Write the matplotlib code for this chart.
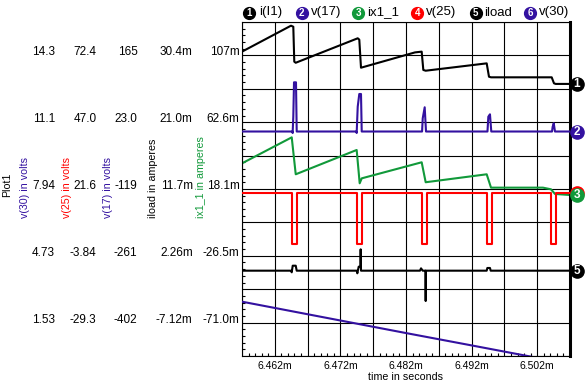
import numpy as np
import matplotlib.pyplot as plt
from matplotlib.lines import Line2D
from matplotlib.ticker import FixedLocator
from matplotlib.transforms import offset_copy

plt.rcParams['font.family'] = ['Liberation Sans', 'DejaVu Sans']

BLUE = '#3311a0'
GREEN = '#11993a'
RED = '#ff0000'

# time axis (ms)
t_min, t_max = 6.457, 6.507
x_ticklabels = ['6.462m', '6.472m', '6.482m', '6.492m', '6.502m']

# axis tick values / labels, top to bottom
ix1_ticks = [107, 62.6, 18.1, -26.5, -71.0]
ix1_ticklabels = ['107m', '62.6m', '18.1m', '-26.5m', '-71.0m']
iload_ticks = [30.4, 21.0, 11.7, 2.26, -7.12]
iload_ticklabels = ['30.4m', '21.0m', '11.7m', '2.26m', '-7.12m']
v17_ticks = [165, 23.0, -119, -261, -402]
v17_ticklabels = ['165', '23.0', '-119', '-261', '-402']
v25_ticks = [72.4, 47.0, 21.6, -3.84, -29.3]
v25_ticklabels = ['72.4', '47.0', '21.6', '-3.84', '-29.3']
v30_ticks = [14.3, 11.1, 7.94, 4.73, 1.53]
v30_ticklabels = ['14.3', '11.1', '7.94', '4.73', '1.53']

# i(I1) in mA, on the ix1_1 axis
iI1_t = [6.4570, 6.46447, 6.46482, 6.46497, 6.46519, 6.47464, 6.47488, 6.47514,
         6.48337, 6.48439, 6.48464, 6.48500, 6.49430, 6.49465, 6.49496,
         6.50421, 6.50456, 6.50482, 6.5070]
iI1_v = [109.5, 126.8, 126.1, 102.8, 102.1, 118.4, 117.5, 98.8,
         109.0, 109.5, 97.3, 96.8, 101.7, 92.8, 92.4,
         92.4, 88.4, 88.0, 88.0]

# ix1_1 in mA
ix1_t = [6.4570, 6.46458, 6.46519, 6.47448, 6.47494, 6.47525, 6.48439, 6.48500,
         6.49430, 6.49496, 6.50288, 6.50410, 6.50471, 6.5070]
ix1_v = [35.1, 52.4, 27.8, 44.0, 21.8, 25.1, 35.8, 22.5,
         27.8, 18.9, 18.9, 17.8, 14.7, 14.0]

# v(17) in volts
v17_t = [6.4570, 6.46467, 6.46472, 6.46482, 6.46493, 6.46523, 6.46534,
         6.47440, 6.47448, 6.47464, 6.47488, 6.47514, 6.47525,
         6.48445, 6.48455, 6.48485, 6.48505,
         6.49442, 6.49455, 6.49480, 6.49500,
         6.50426, 6.50436, 6.50452, 6.50471, 6.5070]
v17_v = [3.5, 3.5, 0.3, 34.9, 107.9, 107.9, 3.5,
         3.5, 0.3, 56.1, 83.1, 83.1, 3.5,
         3.5, 31.5, 54.9, 3.5,
         3.5, 34.9, 40.0, 3.5,
         3.5, 13.7, 21.0, 3.5, 3.5]

# v(25) in volts: pulses low between start/end
v25_high, v25_low = 20.0, 0.5
v25_pulse_start = [6.46458, 6.47448, 6.48439, 6.49430, 6.50410]
v25_pulse_end = [6.46534, 6.47525, 6.48516, 6.49506, 6.50486]

# iload in mA
iload_t = [6.4570, 6.46447, 6.46458, 6.46473, 6.46519, 6.46534,
           6.47450, 6.47458, 6.47479, 6.47505, 6.47509, 6.47514,
           6.48413, 6.48429, 6.48455, 6.48497, 6.48500, 6.48503,
           6.49430, 6.49440, 6.49480, 6.49491, 6.5070]
iload_v = [0.17, 0.17, -0.06, 0.87, 0.87, 0.17,
           0.17, -0.20, 0.73, 0.73, 3.17, 0.17,
           0.17, 0.50, 0.17, 0.17, -4.09, 0.17,
           0.17, 0.55, 0.55, 0.17, 0.17]

# v(30) in volts
v30_t = [6.457, 6.472, 6.482, 6.492, 6.507]
v30_v = [2.53, 1.63, 1.03, 0.44, -0.45]

W, H = 585, 384
fig = plt.figure(figsize=(W / 100, H / 100), dpi=100)
ax = fig.add_axes([242 / W, 1 - 356 / H, 328 / W, 334 / H])


def setup_scale(a, ticks, labels, pad):
    half = (ticks[0] - ticks[-1]) / 8
    lo, hi = ticks[-1] - half, ticks[0] + half
    a.set_ylim(lo, hi)
    a.set_yticks(np.linspace(hi, lo, 11))
    a.set_yticklabels(['' if i % 2 == 0 else labels[i // 2] for i in range(11)])
    a.tick_params(axis='y', which='major', length=0, pad=pad, labelsize=8.5,
                  left=True, right=False, labelleft=True, labelright=False)
    for lab in a.get_yticklabels():
        lab.set_verticalalignment('baseline')
    return lo, hi


ax.set_xlim(t_min, t_max)
ax.set_xticks(np.linspace(t_min, t_max, 11))
ax.set_xticklabels(['' if i % 2 == 0 else x_ticklabels[i // 2] for i in range(11)])
ax.xaxis.set_minor_locator(FixedLocator(np.linspace(t_min, t_max, 51)))
ax.tick_params(axis='x', which='major', length=0, pad=3.5, labelsize=7.5)

lo, hi = setup_scale(ax, ix1_ticks, ix1_ticklabels, 1.8)
ax.yaxis.set_minor_locator(FixedLocator(np.linspace(lo, hi, 51)))
ax.tick_params(which='minor', direction='in', length=2.5, width=0.8, color='black')
ax.tick_params(axis='y', which='minor', left=True, right=False)
ax.tick_params(axis='x', which='minor', bottom=True, top=False)
ax.grid(True, which='major', color='black', lw=0.8)
ax.set_axisbelow(True)
ax.set_xlabel('time in seconds', fontsize=7.7, labelpad=1)
for name, s in ax.spines.items():
    s.set_linewidth(2.2 if name == 'right' else 0.8)

twins = {}
for key, ticks, labels, pad in [('v17', v17_ticks, v17_ticklabels, 75.2),
                                ('v25', v25_ticks, v25_ticklabels, 104.8),
                                ('iload', iload_ticks, iload_ticklabels, 35.5),
                                ('v30', v30_ticks, v30_ticklabels, 134.6)]:
    a = ax.twinx()
    a.yaxis.tick_left()
    setup_scale(a, ticks, labels, pad)
    for s in a.spines.values():
        s.set_visible(False)
    twins[key] = a

# v(25) step trace
v25_t = [t_min]
v25_v = [v25_high]
for s, e in zip(v25_pulse_start, v25_pulse_end):
    v25_t += [s, s, e, e]
    v25_v += [v25_high, v25_low, v25_low, v25_high]
v25_t.append(t_max)
v25_v.append(v25_high)

ax.plot(iI1_t, iI1_v, color='black', lw=1.5)
ax.plot(ix1_t, ix1_v, color=GREEN, lw=1.5)
twins['v17'].plot(v17_t, v17_v, color=BLUE, lw=1.5)
twins['v25'].plot(v25_t, v25_v, color=RED, lw=1.5)
twins['iload'].plot(iload_t, iload_v, color='black', lw=1.5)
twins['v30'].plot(v30_t, v30_v, color=BLUE, lw=1.5)

# end-of-trace markers at the right edge (marker 4 sits under marker 3)
top = twins['v30']
z = 5
for src, t, v, num, c in [(ax, iI1_t[-1], iI1_v[-1], '1', 'black'),
                          (twins['v17'], v17_t[-1], v17_v[-1], '2', BLUE),
                          (twins['v25'], v25_t[-1], v25_v[-1], '', RED),
                          (ax, ix1_t[-1], ix1_v[-1], '3', GREEN),
                          (twins['iload'], iload_t[-1], iload_v[-1], '5', 'black')]:
    tr = offset_copy(src.transData, fig=fig, x=5, y=0, units='points')
    top.plot([t], [v], 'o', ms=9.5, color=c, transform=tr, clip_on=False, zorder=z)
    if num:
        top.text(t, v, num, transform=tr, color='white', ha='center', va='center',
                 fontsize=8.5, fontweight='bold', zorder=z + 1)
    z += 2
top.set_ylim(v30_ticks[-1] - (v30_ticks[0] - v30_ticks[-1]) / 8,
             v30_ticks[0] + (v30_ticks[0] - v30_ticks[-1]) / 8)

# legend row
legend_items = [('1', 'i(I1)', 'black', 249.3, 259),
                ('2', 'v(17)', BLUE, 301.7, 310.5),
                ('3', 'ix1_1', GREEN, 358.3, 367),
                ('4', 'v(25)', RED, 417.3, 425.5),
                ('5', 'iload', 'black', 475.7, 484),
                ('6', 'v(30)', BLUE, 530, 539)]
ly = 1 - 12.5 / H
for num, name, c, cx, tx in legend_items:
    fig.add_artist(Line2D([cx / W], [ly], marker='o', ms=8.5, color=c,
                          transform=fig.transFigure))
    fig.text(cx / W, ly, num, color='white', fontsize=7, fontweight='bold',
             ha='center', va='center')
    fig.text(tx / W, ly, name, color='black', fontsize=9.5, ha='left', va='center')

# rotated axis titles
fig.text(7.5 / W, 1 - 185 / H, 'Plot1', rotation=90, ha='center', va='center',
         fontsize=7.7, color='black')
for x, txt, c in [(25.5, 'v(30) in volts', BLUE),
                  (67.5, 'v(25) in volts', RED),
                  (107.5, 'v(17) in volts', BLUE),
                  (153, 'iload in amperes', 'black'),
                  (200.5, 'ix1_1 in amperes', GREEN)]:
    fig.text(x / W, 1 - 218 / H, txt, rotation=90, ha='center', va='bottom',
             fontsize=7.7, color=c)

fig.savefig('out.png', dpi=100)
